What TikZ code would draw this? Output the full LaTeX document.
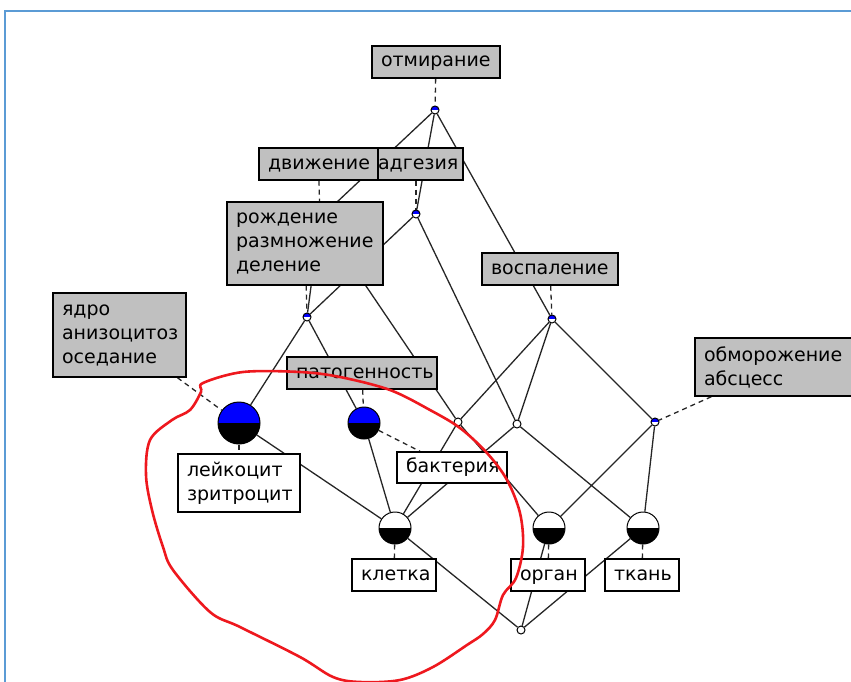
\documentclass[tikz,border=0pt]{standalone}
\usepackage{fontspec}
\setmainfont{DejaVu Sans}
\usetikzlibrary{backgrounds}
\definecolor{frameblue}{RGB}{91,155,213}
\definecolor{labelgray}{RGB}{192,192,192}
\definecolor{attrblue}{RGB}{0,0,255}
\definecolor{penred}{RGB}{238,24,30}

\begin{document}
\begin{tikzpicture}[x=1pt, y=-1pt, line width=1.1pt,
  lnk/.style={black!85, line width=1.3pt},
  lbl/.style={black!85, line width=1.3pt, dash pattern=on 5pt off 4pt},
  attr/.style={draw, line width=1.4pt, fill=labelgray, inner xsep=9pt, inner ysep=2pt,
    align=left, font=\fontsize{19}{24}\selectfont},
  obj/.style={attr, fill=white},
  oneline/.style={text height=10pt, text depth=0pt, minimum height=32pt},
  halves/.style 2 args={circle, draw, line width=1pt, inner sep=0pt, path picture={
    \fill[#1] (path picture bounding box.north west) rectangle (path picture bounding box.east);
    \fill[#2] (path picture bounding box.west) rectangle (path picture bounding box.south east);}},
  cdot/.style={halves={#1}{white}, minimum size=8pt},
  cbig/.style 2 args={halves={#1}{#2}, minimum size=32pt}]

  \useasboundingbox (0,0) rectangle (851,682);
  \clip (0,0) rectangle (851,682);
  \draw[frameblue, line width=2pt] (5,682) -- (5,11) -- (851,11);

  \node[cdot=attrblue] (T) at (435,110) {};
  \node[cdot=attrblue] (A) at (416,214) {};
  \node[cdot=attrblue] (D) at (320,218) {};
  \node[cdot=attrblue] (P) at (307,317) {};
  \node[cdot=attrblue] (V) at (552,319) {};
  \node[cdot=attrblue] (O) at (655,422) {};
  \node[cdot=white] (N1) at (458,422) {};
  \node[cdot=white] (N2) at (517,424) {};
  \node[cdot=white] (Bot) at (521,630) {};
  \node[cbig={attrblue}{black}, minimum size=42pt] (L) at (239,423) {};
  \node[cbig={attrblue}{black}] (B) at (364,423) {};
  \node[cbig={white}{black}] (K) at (395,528) {};
  \node[cbig={white}{black}] (G) at (549,528) {};
  \node[cbig={white}{black}] (Tk) at (643,528) {};

  \node[attr, oneline, text width=110pt] (lOtm) at (436,62) {отмирание};
  \node[attr, oneline, text width=76pt] (lAdg) at (416,164) {адгезия};
  \node[attr, oneline, text width=101pt] (lDvi) at (318.5,164) {движение};
  \node[attr, text width=138pt, minimum height=83pt] (lRozh) at (305,243.5) {рождение\\размножение\\деление};
  \node[attr, oneline, text width=118pt] (lVosp) at (550,269) {воспаление};
  \node[attr, text width=147pt, minimum height=58pt] (lObm) at (777.5,367) {обморожение\\абсцесс};
  \node[attr, text width=115pt, minimum height=84pt] (lYadro) at (119.5,335) {ядро\\анизоцитоз\\оседание};
  \node[attr, oneline, text width=132pt] (lPat) at (362,373) {патогенность};
  \node[obj, text width=104pt, minimum height=58pt] (lLeik) at (239,483) {лейкоцит\\зритроцит};
  \node[obj, oneline, text width=92pt, minimum height=31pt] (lBakt) at (452,467.5) {бактерия};
  \node[obj, oneline, text width=66pt] (lKlet) at (394,575) {клетка};
  \node[obj, oneline, text width=56pt] (lOrg) at (548,575) {орган};
  \node[obj, oneline, text width=56pt] (lTkan) at (642,575) {ткань};

  \begin{scope}[on background layer]
    \draw[lnk] (T) -- (D) (T) -- (A) (T) -- (V);
    \draw[lnk] (A) -- (P) (A) -- (N2) (D) -- (P) (D) -- (N1);
    \draw[lnk] (P) -- (L) (P) -- (B) (V) -- (N1) (V) -- (N2) (V) -- (O);
    \draw[lnk] (L) -- (K) (B) -- (K) (N1) -- (K) (N2) -- (K);
    \draw[lnk] (N1) -- (G) (O) -- (G) (N2) -- (Tk) (O) -- (Tk);
    \draw[lnk] (K) -- (Bot) (G) -- (Bot) (Tk) -- (Bot);

    \draw[lbl] (lOtm) -- (T);
    \draw[lbl] (lDvi) -- (D);
    \draw[lbl] (lAdg) -- (A);
    \draw[lbl] (lRozh) -- (P);
    \draw[lbl] (lVosp) -- (V);
    \draw[lbl] (lObm) -- (O);
    \draw[lbl] (lYadro) -- (L);
    \draw[lbl] (lPat) -- (B);
    \draw[lbl] (L) -- (lLeik);
    \draw[lbl] (B) -- (lBakt);
    \draw[lbl] (K) -- (lKlet);
    \draw[lbl] (G) -- (lOrg);
    \draw[lbl] (Tk) -- (lTkan);
  \end{scope}

  \draw[penred, line width=2.6pt, line cap=round, line join=round]
    plot[smooth cycle, tension=0.55] coordinates {
      (203,383) (243,372) (300,372) (340,377) (390,390) (430,410) (460,428)
      (487,453) (507,480) (520,513) (523,547) (516,578) (503,595) (495,620)
      (483,634) (467,645) (433,667) (400,680) (360,682) (333,677) (300,657)
      (240,627) (210,612) (173,570) (163,547) (152,510) (146,475) (150,440)
      (172,420) (190,410) (201,392)};
\end{tikzpicture}
\end{document}
